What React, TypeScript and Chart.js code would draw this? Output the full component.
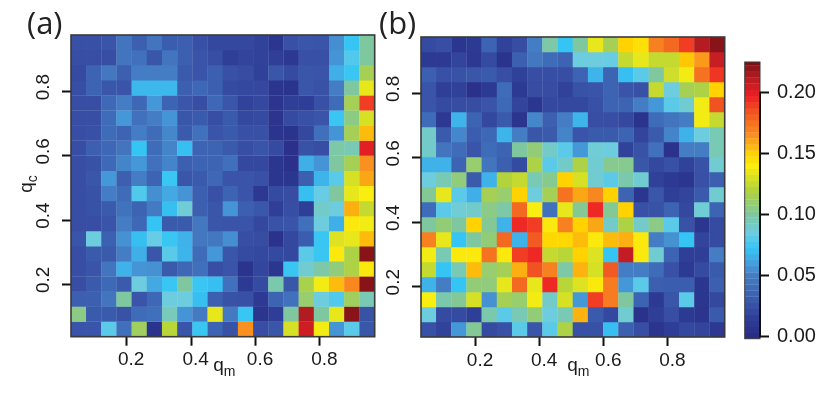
import React, { useEffect, useRef } from "react";
import { Chart, registerables } from "chart.js";

Chart.register(...registerables);

// Rows listed from the top of each panel (highest q_c) to the bottom; 20 cells per row, q_m ascending.
const panelARows: number[][] = [
  [.025,.025,.027,.045,.033,.045,.032,.033,.025,.02,.02,.02,.017,.008,.025,.028,.027,.055,.072,.10],
  [.024,.024,.024,.045,.043,.028,.045,.033,.027,.024,.015,.018,.017,.015,.01,.025,.025,.057,.078,.10],
  [.022,.035,.047,.033,.05,.05,.05,.03,.027,.033,.025,.023,.016,.028,.022,.028,.027,.065,.073,.115],
  [.024,.035,.028,.027,.068,.068,.068,.033,.037,.033,.022,.02,.02,.007,.006,.028,.026,.05,.10,.135],
  [.024,.024,.038,.05,.037,.058,.035,.028,.024,.037,.028,.017,.02,.007,.015,.014,.025,.04,.115,.19],
  [.024,.024,.04,.058,.043,.05,.057,.028,.03,.024,.03,.02,.022,.007,.022,.025,.027,.073,.105,.13],
  [.024,.025,.04,.035,.05,.04,.053,.03,.043,.027,.03,.025,.025,.007,.006,.02,.042,.057,.115,.155],
  [.024,.033,.037,.045,.072,.04,.052,.07,.035,.035,.03,.024,.027,.022,.004,.026,.024,.098,.095,.20],
  [.024,.026,.038,.052,.058,.043,.052,.033,.035,.035,.042,.02,.02,.008,.004,.065,.057,.10,.115,.165],
  [.024,.028,.058,.033,.05,.035,.073,.028,.03,.037,.027,.027,.025,.008,.008,.033,.067,.08,.13,.16],
  [.024,.026,.05,.04,.078,.055,.063,.057,.033,.025,.035,.027,.01,.022,.023,.07,.083,.10,.135,.14],
  [.024,.026,.03,.044,.035,.048,.07,.087,.033,.028,.057,.033,.029,.015,.024,.015,.09,.085,.158,.125],
  [.024,.024,.027,.05,.037,.072,.03,.03,.047,.028,.027,.027,.02,.026,.027,.042,.085,.065,.142,.138],
  [.027,.085,.034,.056,.07,.083,.073,.066,.047,.047,.055,.024,.023,.005,.02,.032,.073,.132,.135,.155],
  [.024,.03,.03,.05,.065,.028,.08,.067,.04,.058,.028,.022,.02,.021,.02,.08,.073,.142,.118,.222],
  [.024,.027,.045,.066,.057,.056,.03,.037,.042,.024,.027,.006,.019,.008,.073,.088,.098,.107,.118,.142],
  [.024,.03,.038,.03,.085,.063,.073,.10,.073,.07,.043,.012,.022,.097,.028,.117,.138,.155,.168,.222],
  [.033,.033,.045,.10,.027,.037,.085,.085,.07,.033,.026,.025,.012,.035,.043,.11,.085,.078,.113,.095],
  [.105,.03,.03,.026,.04,.042,.093,.057,.048,.135,.048,.073,.007,.014,.10,.213,.10,.135,.222,.026],
  [.027,.027,.08,.042,.113,.006,.122,.027,.073,.035,.026,.165,.024,.028,.13,.205,.138,.057,.08,.028],
];

const panelBRows: number[][] = [
  [.022,.024,.008,.012,.035,.017,.023,.05,.098,.072,.10,.135,.115,.15,.145,.17,.178,.19,.212,.222],
  [.012,.012,.018,.01,.022,.006,.033,.047,.04,.035,.085,.085,.083,.125,.135,.125,.125,.152,.163,.207],
  [.033,.025,.026,.028,.03,.024,.016,.024,.024,.024,.035,.067,.035,.07,.08,.10,.128,.138,.175,.192],
  [.027,.015,.016,.004,.012,.04,.012,.023,.023,.017,.026,.027,.035,.027,.025,.125,.085,.115,.118,.15],
  [.027,.022,.023,.023,.027,.038,.018,.008,.02,.02,.02,.025,.035,.035,.05,.058,.08,.088,.138,.185],
  [.04,.01,.067,.035,.02,.03,.007,.053,.033,.05,.067,.024,.024,.02,.006,.04,.045,.05,.138,.125],
  [.09,.03,.053,.032,.037,.067,.05,.028,.03,.052,.027,.03,.03,.035,.018,.03,.052,.066,.085,.095],
  [.09,.045,.04,.027,.04,.035,.10,.108,.09,.08,.058,.087,.085,.017,.026,.043,.005,.05,.05,.095],
  [.066,.066,.035,.11,.045,.033,.022,.118,.08,.09,.118,.088,.103,.103,.028,.02,.025,.017,.026,.088],
  [.085,.095,.107,.03,.066,.12,.125,.095,.103,.15,.13,.088,.08,.097,.088,.016,.012,.008,.025,.033],
  [.102,.135,.08,.065,.115,.11,.15,.085,.115,.175,.16,.168,.15,.035,.008,.028,.015,.018,.03,.088],
  [.04,.08,.087,.09,.105,.098,.178,.14,.043,.135,.102,.195,.102,.15,.025,.026,.035,.02,.087,.035],
  [.10,.108,.10,.15,.102,.066,.195,.19,.142,.17,.15,.16,.09,.118,.09,.105,.08,.026,.008,.022],
  [.17,.135,.072,.10,.108,.178,.066,.183,.148,.148,.155,.142,.155,.158,.142,.05,.056,.072,.018,.022],
  [.138,.095,.142,.142,.175,.142,.19,.195,.125,.122,.15,.132,.072,.208,.142,.088,.035,.015,.015,.05],
  [.125,.072,.095,.155,.11,.115,.158,.185,.17,.098,.157,.13,.183,.05,.05,.04,.025,.012,.022,.03],
  [.066,.05,.072,.108,.107,.135,.178,.135,.195,.122,.132,.142,.172,.058,.08,.033,.032,.032,.008,.033],
  [.14,.097,.102,.13,.056,.115,.11,.138,.09,.13,.058,.19,.172,.10,.035,.012,.028,.08,.008,.02],
  [.085,.022,.022,.015,.097,.08,.095,.108,.085,.095,.157,.03,.02,.088,.005,.015,.024,.012,.007,.03],
  [.025,.017,.058,.102,.022,.025,.08,.027,.08,.118,.025,.025,.07,.033,.024,.007,.014,.02,.018,.01],
];

const colorbarLevels = [
  0, .005, .01, .015, .02, .025, .03, .035, .04, .045, .05, .055, .06, .065, .07, .075,
  .08, .085, .09, .095, .1, .105, .11, .115, .12, .125, .13, .135, .14, .145, .15, .155,
  .16, .165, .17, .175, .18, .185, .19, .195, .2, .205, .21, .215, .22, .225,
];

const colorStops: [number, number[]][] = [
  [0, [42, 45, 133]],
  [.012, [44, 58, 148]],
  [.025, [56, 80, 165]],
  [.038, [62, 105, 183]],
  [.05, [68, 125, 195]],
  [.062, [70, 165, 225]],
  [.072, [53, 197, 245]],
  [.084, [108, 205, 226]],
  [.1, [127, 200, 159]],
  [.12, [178, 211, 60]],
  [.14, [250, 238, 16]],
  [.15, [255, 210, 0]],
  [.165, [249, 144, 32]],
  [.183, [241, 90, 34]],
  [.197, [238, 32, 36]],
  [.213, [176, 28, 34]],
  [.225, [122, 16, 21]],
];

const colorFor = (v: number) => {
  for (let i = 1; i < colorStops.length; i++) {
    const [b, cb] = colorStops[i];
    const [a, ca] = colorStops[i - 1];
    if (v <= b) {
      const t = (v - a) / (b - a);
      const c = ca.map((x, k) => Math.round(x + (cb[k] - x) * t));
      return `rgb(${c[0]},${c[1]},${c[2]})`;
    }
  }
  const l = colorStops[colorStops.length - 1][1];
  return `rgb(${l[0]},${l[1]},${l[2]})`;
};

const W = 830;
const H = 396;
const SANS = '"Liberation Sans", Arial, sans-serif';
const TICK_FONT = { family: SANS, size: 19 };
const INK = "#1a1a1a";

type Sub = { main: string; sub: string; x: number; y: number; rot?: boolean };

const drawSub = (ctx: CanvasRenderingContext2D, s: Sub) => {
  ctx.save();
  ctx.translate(s.x, s.y);
  if (s.rot) ctx.rotate(-Math.PI / 2);
  ctx.fillStyle = INK;
  ctx.textBaseline = "alphabetic";
  ctx.textAlign = "left";
  ctx.font = `19px ${SANS}`;
  ctx.fillText(s.main, 0, 0);
  const w = ctx.measureText(s.main).width;
  ctx.font = `14px ${SANS}`;
  ctx.fillText(s.sub, w, 5);
  ctx.restore();
};

const panelPlugin = (tag: string, tagX: number, labels: Sub[]) => ({
  id: "panelDecor",
  afterDatasetsDraw(chart: any) {
    const { ctx, chartArea: a } = chart;
    ctx.save();
    ctx.strokeStyle = "#3a3a3a";
    ctx.lineWidth = 1.6;
    ctx.strokeRect(a.left, a.top, a.right - a.left, a.bottom - a.top);
    ctx.fillStyle = "#222";
    ctx.font = '31px "Open Sans", sans-serif';
    ctx.textAlign = "left";
    ctx.textBaseline = "alphabetic";
    ctx.fillText(tag, tagX, 34);
    ctx.restore();
    labels.forEach((l) => drawSub(ctx, l));
  },
});

const makePanel = (
  canvas: HTMLCanvasElement,
  rows: number[][],
  xRange: [number, number],
  yRange: [number, number],
  box: { left: number; right: number; top: number; bottom: number },
  plugin: any,
) => {
  const cw = (xRange[1] - xRange[0]) / 20;
  const ch = (yRange[1] - yRange[0]) / 20;
  const datasets = rows.map((row, r) => {
    const lo = yRange[1] - ch * (r + 1);
    return {
      data: row.map((_, i) => ({ x: xRange[0] + cw * (i + 0.5), y: [lo - 0.0006, lo + ch + 0.0006] })),
      backgroundColor: row.map(colorFor),
      borderWidth: 0,
      grouped: false,
      barPercentage: 1.02,
      categoryPercentage: 1,
    };
  });
  const tickScale = {
    type: "linear",
    offset: false,
    grid: { offset: false, drawOnChartArea: false, drawTicks: true, tickLength: 9, tickWidth: 2, tickColor: "#111" },
    border: { display: false },
  };
  return new Chart(canvas, {
    type: "bar",
    data: { datasets } as any,
    options: {
      responsive: false,
      animation: false,
      events: [],
      layout: { padding: { left: 0, top: box.top, right: W - box.right, bottom: 0 } },
      plugins: { legend: { display: false }, tooltip: { enabled: false } },
      scales: {
        x: {
          ...tickScale,
          min: xRange[0],
          max: xRange[1],
          ticks: {
            stepSize: 0.2,
            includeBounds: false,
            color: INK,
            font: TICK_FONT,
            padding: 3,
            labelOffset: 4.5,
            maxRotation: 0,
            minRotation: 0,
            autoSkip: false,
            callback: (v: any) => Number(v).toFixed(1),
          },
          afterFit: (s: any) => {
            s.height = H - box.bottom;
          },
        },
        y: {
          ...tickScale,
          min: yRange[0],
          max: yRange[1],
          ticks: {
            stepSize: 0.2,
            includeBounds: false,
            color: INK,
            font: TICK_FONT,
            padding: 5,
            labelOffset: -4.5,
            crossAlign: "center",
            minRotation: 90,
            maxRotation: 90,
            autoSkip: false,
            callback: (v: any) => Number(v).toFixed(1),
          },
          afterFit: (s: any) => {
            s.width = box.left;
          },
        },
      } as any,
    },
    plugins: [plugin],
  });
};

const makeColorbar = (canvas: HTMLCanvasElement) => {
  const box = { left: 744.7, right: 760, top: 62, bottom: 338.7 };
  const decor = {
    id: "barDecor",
    afterDatasetsDraw(chart: any) {
      const { ctx, chartArea: a, scales } = chart;
      ctx.save();
      ctx.strokeStyle = "#3a3a3a";
      ctx.lineWidth = 1;
      ctx.strokeRect(a.left, a.top, a.right - a.left, a.bottom - a.top);
      ctx.strokeStyle = "#111";
      ctx.lineWidth = 2;
      ctx.beginPath();
      ctx.moveTo(a.right, scales.y.getPixelForValue(0.2) - 1);
      ctx.lineTo(a.right, scales.y.getPixelForValue(0) + 1);
      ctx.stroke();
      ctx.restore();
    },
  };
  return new Chart(canvas, {
    type: "bar",
    data: {
      datasets: [
        {
          data: colorbarLevels.map((l) => ({ y: l, x: [0, 1] })),
          backgroundColor: colorbarLevels.map(colorFor),
          borderWidth: 0,
          grouped: false,
          barPercentage: 1.05,
          categoryPercentage: 1,
        },
      ],
    } as any,
    options: {
      responsive: false,
      animation: false,
      events: [],
      indexAxis: "y",
      layout: { padding: { left: box.left, top: box.top, right: 0, bottom: H - box.bottom } },
      plugins: { legend: { display: false }, tooltip: { enabled: false } },
      scales: {
        x: { type: "linear", min: 0, max: 1, display: false },
        y: {
          type: "linear",
          position: "right",
          offset: false,
          min: -0.002,
          max: 0.2253,
          grid: { offset: false, drawOnChartArea: false, drawTicks: true, tickLength: 9, tickWidth: 2, tickColor: "#111" },
          border: { display: false },
          ticks: {
            stepSize: 0.05,
            includeBounds: false,
            color: INK,
            font: { family: SANS, size: 20 },
            padding: 8,
            autoSkip: false,
            callback: (v: any) => Number(v).toFixed(2),
          },
          afterFit: (s: any) => {
            s.width = W - box.right;
          },
        },
      } as any,
    },
    plugins: [decor],
  });
};

export default function App() {
  const aRef = useRef<HTMLCanvasElement>(null);
  const bRef = useRef<HTMLCanvasElement>(null);
  const cRef = useRef<HTMLCanvasElement>(null);

  useEffect(() => {
    const a = makePanel(
      aRef.current!,
      panelARows,
      [0.027, 0.97],
      [0.037, 0.976],
      { left: 71, right: 374.7, top: 35, bottom: 336.7 },
      panelPlugin("(a)", 27, [
        { main: "q", sub: "m", x: 213.3, y: 371 },
        { main: "q", sub: "c", x: 31.5, y: 192.7, rot: true },
      ]),
    );
    const b = makePanel(
      bRef.current!,
      panelBRows,
      [0.03, 0.977],
      [0.044, 0.975],
      { left: 421, right: 724.7, top: 37, bottom: 337 },
      panelPlugin("(b)", 379, [{ main: "q", sub: "m", x: 567.3, y: 371 }]),
    );
    const c = makeColorbar(cRef.current!);
    return () => {
      a.destroy();
      b.destroy();
      c.destroy();
    };
  }, []);

  const style: React.CSSProperties = { position: "absolute", left: 0, top: 0 };
  return (
    <div style={{ position: "absolute", left: 0, top: 0, width: W, height: H, background: "#fff" }}>
      <canvas ref={aRef} width={W} height={H} style={style} />
      <canvas ref={bRef} width={W} height={H} style={style} />
      <canvas ref={cRef} width={W} height={H} style={style} />
    </div>
  );
}
